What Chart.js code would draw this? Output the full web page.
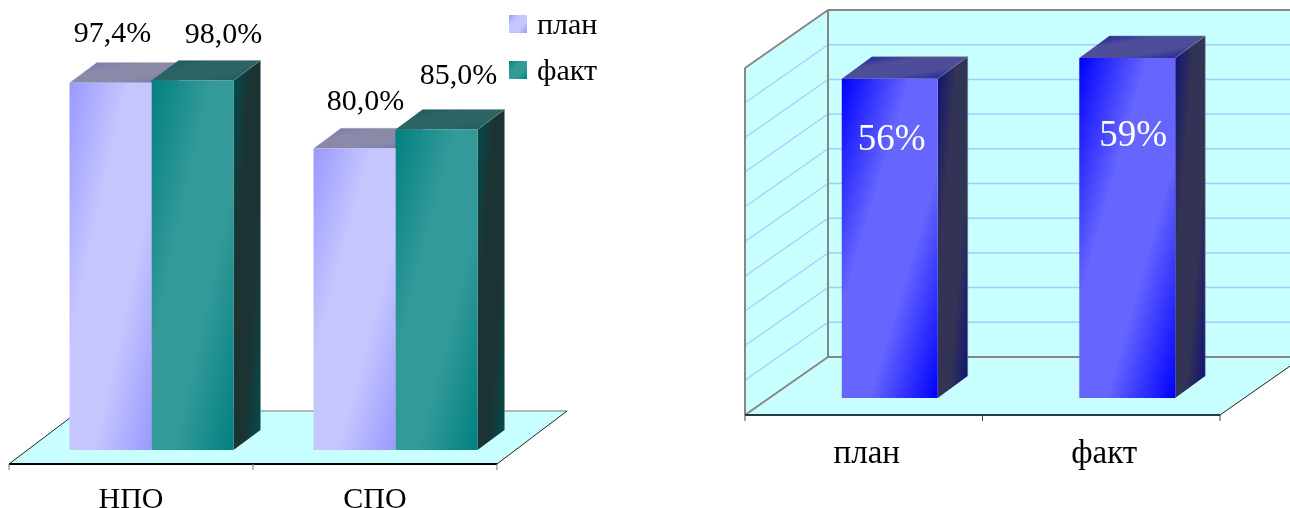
<!DOCTYPE html>
<html>
<head>
<meta charset="utf-8">
<script src="https://cdn.jsdelivr.net/npm/chart.js@4"></script>
<style>
  body { margin: 0; background: #fff; }
  canvas { position: absolute; top: 0; }
  #leftChart { left: 0; }
  #rightChart { left: 640px; }
</style>
</head>
<body>
<canvas id="leftChart" width="640" height="508"></canvas>
<canvas id="rightChart" width="650" height="508"></canvas>
<script>
const leftCategories = ["НПО", "СПО"];
const leftPlan = [97.4, 80.0];
const leftFact = [98.0, 85.0];
const legendNames = ["план", "факт"];

const rightCategories = ["план", "факт"];
const rightValues = [56, 59];
const rightTicks = { min: 10, max: 60, step: 5 };

const SERIF = '"Liberation Serif", serif';

const planColors = { front: ["#9999ff", "#c6c6ff"], top: ["#7070b8", "#8a8aa8"], side: ["#5c5c99", "#7a7a99"] };
const factColors = { front: ["#008080", "#339999"], top: ["#125c5c", "#2c6464"], side: ["#004d4d", "#1c3333"] };
const blueColors = { front: ["#0000ff", "#6666ff"], top: ["#14149a", "#4d4d99"], side: ["#10107a", "#333355"] };

// corner to corner gradient scaled to the box, dark in two corners and light through the middle
function diagGradient(ctx, x, y, w, h, colors, edge) {
    const s = 2 / (1 / (w * w) + 1 / (h * h));
    const g = ctx.createLinearGradient(x, y, x + s / w, y + s / h);
    g.addColorStop(0, colors[0]);
    g.addColorStop(edge, colors[1]);
    g.addColorStop(1 - edge, colors[1]);
    g.addColorStop(1, colors[0]);
    return g;
}

function poly(ctx, points, fill, stroke, lineWidth) {
    ctx.beginPath();
    points.forEach((p, i) => i ? ctx.lineTo(p[0], p[1]) : ctx.moveTo(p[0], p[1]));
    ctx.closePath();
    if (fill) {
        ctx.fillStyle = fill;
        ctx.fill();
    }
    if (stroke) {
        ctx.strokeStyle = stroke;
        ctx.lineWidth = lineWidth;
        ctx.stroke();
    }
}

function line(ctx, x1, y1, x2, y2, color, width) {
    ctx.beginPath();
    ctx.moveTo(x1, y1);
    ctx.lineTo(x2, y2);
    ctx.strokeStyle = color;
    ctx.lineWidth = width;
    ctx.stroke();
}

function drawBarFaces(chart, cfg) {
    const ctx = chart.ctx;
    const dx = cfg.barDepth[0], dy = cfg.barDepth[1];
    chart.data.labels.forEach((_, i) => {
        chart.data.datasets.forEach((ds, d) => {
            const bar = chart.getDatasetMeta(d).data[i];
            const colors = cfg.colors[d];
            const l = bar.x - bar.width / 2, r = bar.x + bar.width / 2;
            const t = bar.y, b = Math.min(bar.base, chart.chartArea.bottom);

            poly(ctx, [[l, t], [r, t], [r + dx, t - dy], [l + dx, t - dy]],
                diagGradient(ctx, l, t - dy, r - l + dx, dy, colors.top, 0.33));
            poly(ctx, [[r, t], [r + dx, t - dy], [r + dx, b - dy], [r, b]],
                diagGradient(ctx, r, t - dy, dx, b - t + dy, colors.side, 0.33));

            // thin lighter rim on the back edges
            ctx.beginPath();
            ctx.moveTo(l + dx, t - dy);
            ctx.lineTo(r + dx, t - dy);
            ctx.lineTo(r + dx, b - dy);
            ctx.moveTo(r, t);
            ctx.lineTo(r + dx, t - dy);
            ctx.strokeStyle = "rgba(130,140,150,0.55)";
            ctx.lineWidth = 1;
            ctx.stroke();

            // new options object, resolved ones can be shared between bars
            bar.options = Object.assign({}, bar.options, {
                backgroundColor: diagGradient(ctx, l, t, r - l, b - t, colors.front, 0.36)
            });
        });
    });
}

function drawLeftFloor(chart) {
    const ctx = chart.ctx;
    const x = chart.scales.x;
    const front = 464, back = 411, shift = 20.5, dx = 70;
    const x0 = x.left - shift, x1 = x.right - shift;

    poly(ctx, [[x0, front], [x1, front], [x1 + dx, back], [x0 + dx, back]], "#c8ffff");
    line(ctx, x0 + dx, back, x1 + dx, back, "#777", 1);
    line(ctx, x0, front, x0 + dx, back, "#222", 1);
    line(ctx, x1, front, x1 + dx, back, "#222", 1);
    line(ctx, x0, front, x1, front, "#000", 2);
    [x0, (x0 + x1) / 2, x1].forEach(tx => line(ctx, tx, front, tx, front + 6, "#777", 1));
}

function drawRightRoom(chart) {
    const ctx = chart.ctx;
    const x = chart.scales.x, y = chart.scales.y;
    const x0 = x.left - 26, x1 = x.right - 26;
    const dx = 83;
    const floorFront = 415, floorBack = 357;
    const top = y.getPixelForValue(rightTicks.max) - 41;
    const wallDrop = floorFront - floorBack;

    poly(ctx, [[x0 + dx, top], [x1 + dx, top], [x1 + dx, floorBack], [x0 + dx, floorBack]], "#c8ffff");
    poly(ctx, [[x0, top + wallDrop], [x0 + dx, top], [x0 + dx, floorBack], [x0, floorFront]], "#c8ffff");
    poly(ctx, [[x0, floorFront], [x1, floorFront], [x1 + dx, floorBack], [x0 + dx, floorBack]], "#c8ffff");

    y.ticks.forEach(t => {
        if (t.value === rightTicks.min || t.value === rightTicks.max) return;
        const py = y.getPixelForValue(t.value);
        line(ctx, x0 + dx, py - 41, x1 + dx, py - 41, "#a4ccff", 1.5);
        line(ctx, x0, py + 17, x0 + dx, py - 41, "#a4ccff", 1.2);
    });

    line(ctx, x0 + dx, top, x1 + dx, top, "#868686", 2);
    line(ctx, x0 + dx, floorBack, x1 + dx, floorBack, "#868686", 2);
    line(ctx, x0 + dx, top, x0 + dx, floorBack, "#868686", 2);
    line(ctx, x0, top + wallDrop, x0 + dx, top, "#868686", 2);
    line(ctx, x0, top + wallDrop, x0, floorFront, "#868686", 2);
    line(ctx, x0, floorFront, x0 + dx, floorBack, "#868686", 2);
    line(ctx, x1, floorFront, x1 + dx, floorBack, "#222", 1);
    line(ctx, x0, floorFront, x1, floorFront, "#2a3a3a", 2);
    [x0, (x0 + x1) / 2, x1].forEach(tx => line(ctx, tx, floorFront, tx, floorFront + 6, "#444", 1));
}

function drawValueLabels(chart, cfg) {
    const ctx = chart.ctx;
    ctx.font = cfg.labelFont;
    ctx.fillStyle = cfg.labelColor;
    ctx.textAlign = "center";
    ctx.textBaseline = "alphabetic";
    chart.data.labels.forEach((_, i) => {
        chart.data.datasets.forEach((ds, d) => {
            const bar = chart.getDatasetMeta(d).data[i];
            const nudge = cfg.labelNudge[d][i];
            ctx.fillText(cfg.formatValue(ds.data[i]), bar.x + nudge[0], bar.y + nudge[1]);
        });
    });
}

function drawLegend(chart) {
    const ctx = chart.ctx;
    const boxX = 509, size = 18;
    [[15, planColors], [61, factColors]].forEach((row, i) => {
        poly(ctx, [[boxX, row[0]], [boxX + size, row[0]], [boxX + size, row[0] + size], [boxX, row[0] + size]],
            diagGradient(ctx, boxX, row[0], size, size, row[1].front, 0.33));
        ctx.font = "30px " + SERIF;
        ctx.fillStyle = "#000";
        ctx.textAlign = "left";
        ctx.textBaseline = "alphabetic";
        ctx.fillText(legendNames[i], 537, row[0] + 19);
    });
}

function makeChart(id, cfg) {
    return new Chart(document.getElementById(id), {
        type: "bar",
        data: { labels: cfg.labels, datasets: cfg.datasets },
        options: {
            responsive: false,
            animation: false,
            events: [],
            layout: { padding: cfg.padding },
            plugins: { legend: { display: false }, tooltip: { enabled: false } },
            scales: {
                x: {
                    grid: { display: false },
                    border: { display: false },
                    afterFit: s => { s.height = cfg.axisHeight; },
                    ticks: {
                        color: "#000",
                        font: { family: SERIF, size: cfg.tickSize },
                        padding: cfg.tickPadding,
                        labelOffset: cfg.tickOffset,
                        maxRotation: 0,
                        autoSkip: false
                    }
                },
                y: Object.assign({ display: false }, cfg.yScale)
            }
        },
        plugins: [{
            id: "scene3d",
            beforeDatasetsDraw: chart => {
                cfg.drawScene(chart);
                drawBarFaces(chart, cfg);
            },
            afterDatasetsDraw: chart => {
                drawValueLabels(chart, cfg);
                if (cfg.drawExtra) cfg.drawExtra(chart);
            }
        }]
    });
}

makeChart("leftChart", {
    labels: leftCategories,
    datasets: [
        { label: legendNames[0], data: leftPlan, categoryPercentage: 0.672, barPercentage: 1 },
        { label: legendNames[1], data: leftFact, categoryPercentage: 0.672, barPercentage: 1 }
    ],
    padding: { left: 29.5, right: 122.5, top: 73, bottom: 0 },
    axisHeight: 58,
    tickSize: 30,
    tickPadding: 24,
    tickOffset: -20.5,
    yScale: { min: 0, max: 100 },
    colors: [planColors, factColors],
    barDepth: [27, 20],
    labelFont: "30px " + SERIF,
    labelColor: "#000",
    labelNudge: [[[2, -41], [11, -38]], [[31, -38], [22, -46]]],
    formatValue: v => v.toFixed(1).replace(".", ",") + "%",
    drawScene: drawLeftFloor,
    drawExtra: drawLegend
});

makeChart("rightChart", {
    labels: rightCategories,
    datasets: [
        { label: "", data: rightValues, categoryPercentage: 0.404, barPercentage: 1 }
    ],
    padding: { left: 131, right: 44, top: 51, bottom: 0 },
    axisHeight: 110,
    tickSize: 33,
    tickPadding: 29,
    tickOffset: -23,
    yScale: { min: rightTicks.min, max: rightTicks.max, ticks: { stepSize: rightTicks.step } },
    colors: [blueColors],
    barDepth: [30, 22],
    labelFont: "37px " + SERIF,
    labelColor: "#fff",
    labelNudge: [[[2, 71], [6, 88]]],
    formatValue: v => v + "%",
    drawScene: drawRightRoom
});
</script>
</body>
</html>
